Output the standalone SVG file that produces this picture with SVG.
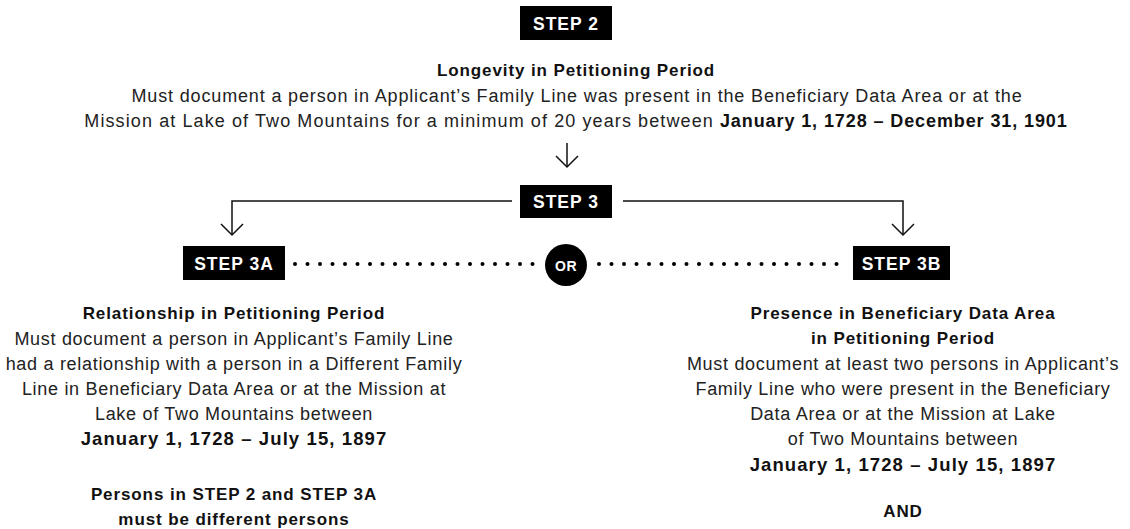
<svg xmlns="http://www.w3.org/2000/svg" width="1130" height="529" viewBox="0 0 1130 529">
<defs>
<style>
.box{fill:#000}
.lbl{font-family:"Liberation Sans",Arial,sans-serif;font-weight:bold;font-size:17.5px;letter-spacing:1px;fill:#fff;text-anchor:middle}
.t{font-family:"Liberation Sans",Arial,sans-serif;font-size:18px;letter-spacing:0.7px;fill:#222;text-anchor:middle}
.b{font-weight:bold;fill:#111}
.h{font-family:"Liberation Sans",Arial,sans-serif;font-size:17px;letter-spacing:0.9px;font-weight:bold;fill:#111;text-anchor:middle}
.d{font-family:"Liberation Sans",Arial,sans-serif;font-size:18.5px;letter-spacing:1.1px;font-weight:bold;fill:#111;text-anchor:middle}
.ln{fill:none;stroke:#111;stroke-width:1.5}
.dot{fill:#000}
</style>
<marker id="arr" markerWidth="24" markerHeight="14" refX="12" refY="12" orientation="auto" markerUnits="userSpaceOnUse" viewBox="0 0 24 14">
<path d="M1,1 L12,12 L23,1" fill="none" stroke="#111" stroke-width="1.5"/>
</marker>
</defs>
<rect width="1130" height="529" fill="#fff"/>

<g id="connectors">
<path class="ln" d="M567,143 V167" marker-end="url(#arr)"/>
<path class="ln" d="M512,201 H232 V235" marker-end="url(#arr)"/>
<path class="ln" d="M623,201 H903 V235" marker-end="url(#arr)"/>
<g id="dots-left" class="dot">
<circle cx="295" cy="264" r="2"/><circle cx="307.5" cy="264" r="2"/><circle cx="320" cy="264" r="2"/><circle cx="332.5" cy="264" r="2"/><circle cx="345" cy="264" r="2"/><circle cx="357.5" cy="264" r="2"/><circle cx="370" cy="264" r="2"/><circle cx="382.5" cy="264" r="2"/><circle cx="395" cy="264" r="2"/><circle cx="407.5" cy="264" r="2"/><circle cx="420" cy="264" r="2"/><circle cx="432.5" cy="264" r="2"/><circle cx="445" cy="264" r="2"/><circle cx="457.5" cy="264" r="2"/><circle cx="470" cy="264" r="2"/><circle cx="482.5" cy="264" r="2"/><circle cx="495" cy="264" r="2"/><circle cx="507.5" cy="264" r="2"/><circle cx="520" cy="264" r="2"/><circle cx="532.5" cy="264" r="2"/>
</g>
<g id="dots-right" class="dot">
<circle cx="599" cy="264" r="2"/><circle cx="611.5" cy="264" r="2"/><circle cx="624" cy="264" r="2"/><circle cx="636.5" cy="264" r="2"/><circle cx="649" cy="264" r="2"/><circle cx="661.5" cy="264" r="2"/><circle cx="674" cy="264" r="2"/><circle cx="686.5" cy="264" r="2"/><circle cx="699" cy="264" r="2"/><circle cx="711.5" cy="264" r="2"/><circle cx="724" cy="264" r="2"/><circle cx="736.5" cy="264" r="2"/><circle cx="749" cy="264" r="2"/><circle cx="761.5" cy="264" r="2"/><circle cx="774" cy="264" r="2"/><circle cx="786.5" cy="264" r="2"/><circle cx="799" cy="264" r="2"/><circle cx="811.5" cy="264" r="2"/><circle cx="824" cy="264" r="2"/><circle cx="836.5" cy="264" r="2"/>
</g>
</g>

<g id="step2">
<rect class="box" x="520" y="6" width="92" height="34"/>
<text class="lbl" x="566" y="29.5">STEP 2</text>
<text class="h" x="576" y="76">Longevity in Petitioning Period</text>
<text class="t" x="577" y="102" style="letter-spacing:0.85px">Must document a person in Applicant’s Family Line was present in the Beneficiary Data Area or at the</text>
<text class="t" x="576" y="127" style="letter-spacing:1.1px">Mission at Lake of Two Mountains for a minimum of 20 years between <tspan class="b" style="letter-spacing:0.9px">January 1, 1728 – December 31, 1901</tspan></text>
</g>

<g id="step3">
<rect class="box" x="520" y="185" width="92" height="33"/>
<text class="lbl" x="566" y="208">STEP 3</text>
</g>

<g id="or">
<circle cx="566" cy="265" r="21" fill="#000"/>
<text class="lbl" x="566" y="270.5" style="font-size:14px;letter-spacing:0.5px">OR</text>
</g>

<g id="step3a">
<rect class="box" x="183" y="246" width="102" height="34"/>
<text class="lbl" x="234" y="269.5">STEP 3A</text>
<text class="h" x="234" y="319">Relationship in Petitioning Period</text>
<text class="t" x="234" y="345">Must document a person in Applicant’s Family Line</text>
<text class="t" x="234" y="370">had a relationship with a person in a Different Family</text>
<text class="t" x="234" y="395">Line in Beneficiary Data Area or at the Mission at</text>
<text class="t" x="234" y="420">Lake of Two Mountains between</text>
<text class="d" x="234" y="445">January 1, 1728 – July 15, 1897</text>
<text class="h" x="234" y="500">Persons in STEP 2 and STEP 3A</text>
<text class="h" x="234" y="525">must be different persons</text>
</g>

<g id="step3b">
<rect class="box" x="853" y="246" width="97" height="34"/>
<text class="lbl" x="901.5" y="269.5">STEP 3B</text>
<text class="h" x="903" y="319">Presence in Beneficiary Data Area</text>
<text class="h" x="903" y="344">in Petitioning Period</text>
<text class="t" x="903" y="370">Must document at least two persons in Applicant’s</text>
<text class="t" x="903" y="395">Family Line who were present in the Beneficiary</text>
<text class="t" x="903" y="420">Data Area or at the Mission at Lake</text>
<text class="t" x="903" y="445">of Two Mountains between</text>
<text class="d" x="903" y="471">January 1, 1728 – July 15, 1897</text>
<text class="h" x="903" y="517">AND</text>
</g>
</svg>
